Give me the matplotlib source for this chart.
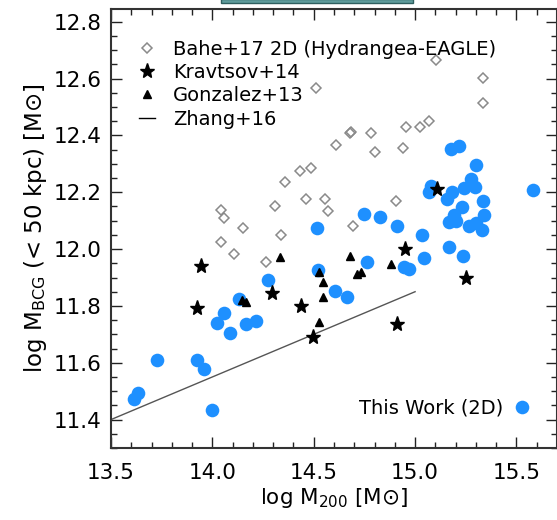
import matplotlib
matplotlib.use("Agg")
import matplotlib.pyplot as plt
from matplotlib.patches import Rectangle
from matplotlib.lines import Line2D
from matplotlib.ticker import MultipleLocator, FormatStrFormatter

plt.rcParams['font.family'] = 'DejaVu Sans'
plt.rcParams['mathtext.fontset'] = 'dejavusans'
plt.rcParams['mathtext.default'] = 'regular'

# Bahe+17 2D (Hydrangea-EAGLE)
bahe_m200 = [15.101, 15.337, 15.333, 14.513, 15.068, 15.022, 14.957, 14.784, 14.686, 14.677,
             14.612, 14.800, 14.940, 14.431, 14.485, 14.357, 14.461, 14.558, 14.570, 14.311,
             14.337, 14.694, 14.907, 14.045, 14.057, 14.149, 14.042, 14.106, 14.264]
bahe_mbcg = [12.666, 12.603, 12.514, 12.566, 12.452, 12.429, 12.429, 12.408, 12.413, 12.408,
             12.366, 12.341, 12.357, 12.275, 12.284, 12.237, 12.176, 12.178, 12.134, 12.151,
             12.049, 12.081, 12.170, 12.137, 12.108, 12.075, 12.025, 11.982, 11.953]

# Kravtsov+14
krav_m200 = [13.943, 14.295, 15.109, 14.950, 15.252, 13.922, 14.436, 14.494, 14.909]
krav_mbcg = [11.940, 11.845, 12.211, 11.999, 11.900, 11.793, 11.799, 11.690, 11.738]

# Gonzalez+13
gonz_m200 = [14.333, 14.525, 14.546, 14.546, 14.525, 14.681, 14.715, 14.732, 14.883, 14.144, 14.164]
gonz_mbcg = [11.972, 11.920, 11.883, 11.830, 11.743, 11.975, 11.911, 11.920, 11.947, 11.822, 11.814]

# Zhang+16 relation
zhang_m200 = [13.5, 15.0]
zhang_mbcg = [11.40, 11.85]

# this work (2D)
work_m200 = [15.178, 15.219, 15.298, 15.076, 15.071, 15.183, 15.159, 15.240, 15.277, 15.297,
             15.334, 15.233, 15.190, 15.166, 15.203, 15.339, 15.268, 15.301, 15.331, 15.580,
             15.165, 15.235, 14.748, 14.829, 14.910, 14.516, 15.033, 15.042, 14.763, 14.945,
             14.968, 14.522, 14.605, 14.666, 14.272, 14.133, 14.057, 14.024, 14.086, 14.168,
             14.214, 13.728, 13.925, 13.958, 13.634, 13.613, 13.999]
work_mbcg = [12.351, 12.363, 12.296, 12.222, 12.202, 12.200, 12.176, 12.214, 12.245, 12.219,
             12.170, 12.147, 12.119, 12.096, 12.099, 12.119, 12.081, 12.092, 12.067, 12.208,
             12.008, 11.975, 12.122, 12.113, 12.082, 12.073, 12.049, 11.970, 11.953, 11.937,
             11.929, 11.926, 11.853, 11.831, 11.890, 11.826, 11.776, 11.741, 11.706, 11.738,
             11.747, 11.611, 11.608, 11.579, 11.494, 11.471, 11.434]

blue = '#1e90ff'
grey = '#8a8a8a'

fig = plt.figure(figsize=(5.57, 5.2), dpi=100)
ax = fig.add_axes([0.1993, 0.1385, 0.8007, 0.8442])

ax.plot(zhang_m200, zhang_mbcg, '-', color='#555555', lw=1.0)
ax.plot(bahe_m200, bahe_mbcg, 'D', ms=5.4, mfc='none', mec=grey, mew=1.1, ls='none')
ax.plot(work_m200, work_mbcg, 'o', ms=9.8, color=blue, mec='none', ls='none')
ax.plot(gonz_m200, gonz_mbcg, '^', ms=6, color='k', ls='none')
ax.plot(krav_m200, krav_mbcg, '*', ms=11, color='k', mec='k', ls='none')

ax.set_xlim(13.5, 15.7)
ax.set_ylim(11.3, 12.845)
ax.xaxis.set_major_locator(MultipleLocator(0.5))
ax.xaxis.set_minor_locator(MultipleLocator(0.1))
ax.yaxis.set_major_locator(MultipleLocator(0.2))
ax.yaxis.set_minor_locator(MultipleLocator(0.05))
ax.xaxis.set_major_formatter(FormatStrFormatter('%.1f'))
ax.yaxis.set_major_formatter(FormatStrFormatter('%.1f'))
ax.tick_params(which='both', direction='in', top=True, right=True, color='#222222', width=1.0)
ax.tick_params(which='major', length=8, labelsize=15.5)
ax.tick_params(which='minor', length=4.5)
ax.tick_params(axis='x', which='major', pad=11)
ax.tick_params(axis='y', which='major', pad=7)
for s in ax.spines.values():
    s.set_linewidth(1.5)
    s.set_color('#333333')

ax.set_xlabel(r'log M$_{200}$ [M⊙]', fontsize=15.5, labelpad=2)
ax.set_ylabel(r'log M$_{BCG}$ (< 50 kpc) [M⊙]', fontsize=16.5, labelpad=3)

handles = [
    Line2D([], [], marker='D', ms=5.4, mfc='none', mec=grey, mew=1.1, ls='none'),
    Line2D([], [], marker='*', ms=11, color='k', ls='none'),
    Line2D([], [], marker='^', ms=6, color='k', ls='none'),
    Line2D([], [], color='k', lw=1.0),
]
labels = ['Bahe+17 2D (Hydrangea-EAGLE)', 'Kravtsov+14', 'Gonzalez+13', 'Zhang+16']
leg1 = ax.legend(handles, labels, loc='upper left', bbox_to_anchor=(0.063, 0.93),
                 frameon=False, fontsize=14, handlelength=0.8, handletextpad=0.95,
                 labelspacing=0.22, borderpad=0, borderaxespad=0)
ax.add_artist(leg1)

h2 = [Line2D([], [], marker='o', ms=9.8, color=blue, mec='none', ls='none')]
ax.legend(h2, ['This Work (2D)'], loc='center right', bbox_to_anchor=(0.94, 0.091),
          frameon=False, fontsize=14, markerfirst=False, handlelength=0.8,
          handletextpad=0.6, borderpad=0, borderaxespad=0)

# strip left over at the top edge
fig.patches.append(Rectangle((221 / 557, 1 - 2.5 / 520), 192 / 557, 4 / 520,
                             transform=fig.transFigure, facecolor='#5f9c9c',
                             edgecolor='#2f6060', lw=1.0, zorder=5))

fig.savefig('out.png', dpi=100)
